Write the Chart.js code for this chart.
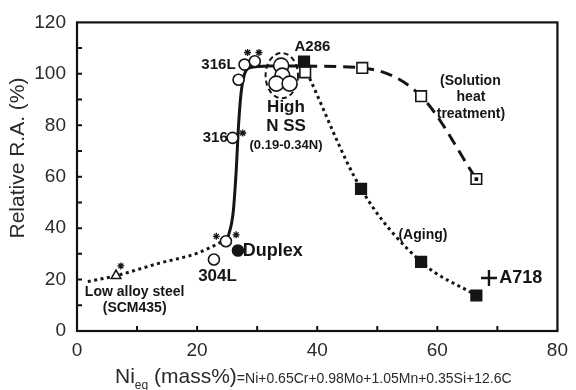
<!DOCTYPE html>
<html>
<head>
<meta charset="utf-8">
<script src="https://cdn.jsdelivr.net/npm/chart.js@4.4.1/dist/chart.umd.min.js"></script>
<style>
  html, body { margin: 0; padding: 0; background: #fff; }
  #wrap { width: 576px; height: 390px; }
</style>
</head>
<body>
<div id="wrap"><canvas id="raChart" width="576" height="390"></canvas></div>
<script>
// Axis ticks
const xTicks = [0, 20, 40, 60, 80];
const yTicks = [0, 20, 40, 60, 80, 100, 120];

// Trend lines, [Ni_eq, relative R.A.]
const lowAlloyTrend = [[1.8, 19.2], [6.5, 21.5], [13.6, 26.3], [20.2, 30.4], [24.3, 34.9]];
const stainlessTrend = [[25.1, 36], [26.0, 46], [26.5, 62], [26.9, 80], [27.4, 94], [28.7, 102.3], [32, 103], [38, 103]];
const solutionTrend = [[38, 103], [47.5, 102.3], [57.3, 91.3], [66.5, 59.1]];
const agingTrend = [[38.3, 100.5], [47.3, 55.3], [57.3, 26.9], [66.5, 13.8]];

// Measured points
const openCircles = [[22.8, 27.8], [24.8, 34.9], [25.9, 75.1], [26.9, 97.7], [27.9, 103.6], [29.6, 104.9]];
const highNCircles = [[34.0, 103.2], [34.2, 99.3], [33.2, 96.2], [35.4, 96.2]];
const starPoints = [[7.3, 25.3], [23.2, 36.8], [26.5, 37.4], [27.6, 77], [28.4, 108.3], [30.3, 108.3]];
const lowAlloyPoint = [[6.5, 21.5]];
const duplexPoint = [[26.8, 31.3]];
const solutionPoints = [[38, 100.6], [47.5, 102.3], [57.3, 91.3], [66.5, 59.1]];
const agingPoints = [[37.8, 104.8], [47.3, 55.3], [57.3, 26.9], [66.5, 13.8]];
const a718Point = [[68.6, 20.6]];

// Text notes anchored in data units
const notes = [
    { text: '316L', x: 26.4, y: 103.4, size: 15, align: 'right' },
    { text: 'A286', x: 39.2, y: 110.3, size: 15 },
    { text: 'High', x: 34.8, y: 87.0, size: 17 },
    { text: 'N SS', x: 34.8, y: 79.7, size: 17 },
    { text: '(0.19-0.34N)', x: 34.8, y: 72.0, size: 13 },
    { text: '316', x: 25.1, y: 75.1, size: 15, align: 'right' },
    { text: '(Solution', x: 65.5, y: 97.3, size: 14 },
    { text: 'heat', x: 65.6, y: 91.1, size: 14 },
    { text: 'treatment)', x: 65.6, y: 84.4, size: 14 },
    { text: '(Aging)', x: 57.6, y: 37.4, size: 14 },
    { text: 'A718', x: 70.3, y: 20.7, size: 18, align: 'left' },
    { text: 'Duplex', x: 27.6, y: 31.0, size: 18, align: 'left' },
    { text: '304L', x: 23.4, y: 21.1, size: 17 },
    { text: 'Low alloy steel', x: 9.6, y: 15.3, size: 14 },
    { text: '(SCM435)', x: 9.6, y: 8.7, size: 14 }
];

const FONT = "'Liberation Sans', Arial, sans-serif";
const INK = '#151515';

function pts(arr) {
    return arr.map(([x, y]) => ({ x, y }));
}

function trend(data, dash) {
    return {
        data: pts(data),
        showLine: true,
        borderColor: INK,
        borderWidth: 3,
        borderDash: dash,
        borderCapStyle: 'butt',
        cubicInterpolationMode: 'monotone',
        pointRadius: 0,
        order: 10
    };
}

function marks(data, style, radius, fill, order) {
    return {
        data: pts(data),
        showLine: false,
        pointStyle: style,
        pointRadius: radius,
        pointBackgroundColor: fill,
        pointBorderColor: INK,
        pointBorderWidth: 1.6,
        order: order
    };
}

// Frame, inward ticks, dashed ring, notes and axis titles
const decorPlugin = {
    id: 'decor',
    beforeDatasetsDraw(chart) {
        const { ctx, scales: { x, y } } = chart;
        const cx = x.getPixelForValue(34.1);
        const cy = y.getPixelForValue(99.3);
        const rx = x.getPixelForValue(34.1 + 2.7) - cx;
        const ry = cy - y.getPixelForValue(99.3 + 8.8);
        ctx.save();
        ctx.setLineDash([5, 3.5]);
        ctx.lineWidth = 2;
        ctx.strokeStyle = INK;
        ctx.beginPath();
        ctx.ellipse(cx, cy, rx, ry, 0, 0, Math.PI * 2);
        ctx.stroke();
        ctx.restore();
    },
    afterDraw(chart) {
        const { ctx, chartArea: a, scales: { x, y } } = chart;
        ctx.save();

        // box
        ctx.strokeStyle = '#111';
        ctx.lineWidth = 2.2;
        ctx.strokeRect(a.left, a.top, a.right - a.left, a.bottom - a.top);

        // ticks every 10 units, pointing inward
        ctx.lineWidth = 2;
        ctx.beginPath();
        for (let v = 10; v < 80; v += 10) {
            const px = x.getPixelForValue(v);
            ctx.moveTo(px, a.bottom);
            ctx.lineTo(px, a.bottom - 5);
        }
        for (let v = 10; v < 120; v += 10) {
            const py = y.getPixelForValue(v);
            ctx.moveTo(a.left, py);
            ctx.lineTo(a.left + 5, py);
        }
        ctx.stroke();

        // notes
        ctx.fillStyle = INK;
        ctx.textBaseline = 'middle';
        notes.forEach(n => {
            ctx.font = 'bold ' + n.size + 'px ' + FONT;
            ctx.textAlign = n.align || 'center';
            ctx.fillText(n.text, x.getPixelForValue(n.x), y.getPixelForValue(n.y));
        });

        // y title
        ctx.fillStyle = '#2a2a2a';
        ctx.save();
        ctx.translate(18, 158);
        ctx.rotate(-Math.PI / 2);
        ctx.textAlign = 'center';
        ctx.font = '21px ' + FONT;
        ctx.fillText('Relative R.A. (%)', 0, 0);
        ctx.restore();

        // x title with subscript and smaller formula
        ctx.textAlign = 'left';
        ctx.textBaseline = 'alphabetic';
        let tx = 115;
        const parts = [
            { t: 'Ni', size: 21, base: 383 },
            { t: 'eq', size: 12, base: 389 },
            { t: ' (mass%)', size: 21, base: 383 },
            { t: '=Ni+0.65Cr+0.98Mo+1.05Mn+0.35Si+12.6C', size: 14, base: 383 }
        ];
        parts.forEach(p => {
            ctx.font = p.size + 'px ' + FONT;
            ctx.fillText(p.t, tx, p.base);
            tx += ctx.measureText(p.t).width;
        });

        ctx.restore();
    }
};

const tickFont = { family: FONT, size: 19 };

new Chart(document.getElementById('raChart'), {
    type: 'scatter',
    data: {
        datasets: [
            trend(lowAlloyTrend, [3, 3.5]),
            trend(stainlessTrend, []),
            trend(solutionTrend, [12, 7]),
            trend(agingTrend, [3, 3.5]),
            marks(openCircles, 'circle', 5.5, '#fff', 3),
            marks(highNCircles, 'circle', 7.5, '#fff', 3),
            Object.assign(marks(starPoints, 'star', 3.5, '#fff', 3), { pointBorderWidth: 1.3 }),
            marks(lowAlloyPoint, 'triangle', 5.5, '#fff', 3),
            marks(duplexPoint, 'circle', 5.5, INK, 3),
            marks(solutionPoints, 'rect', 7.5, '#fff', 2),
            marks(solutionPoints.slice(-1), 'rect', 1.5, INK, 1),
            marks(agingPoints, 'rect', 7.5, INK, 1),
            Object.assign(marks(a718Point, 'cross', 8, INK, 1), { pointBorderWidth: 2.4 })
        ]
    },
    options: {
        responsive: false,
        animation: false,
        layout: { padding: { top: 18, right: 12, left: 0, bottom: 0 } },
        plugins: {
            legend: { display: false },
            tooltip: { enabled: false }
        },
        scales: {
            x: {
                type: 'linear',
                min: 0,
                max: 80,
                afterBuildTicks: s => { s.ticks = xTicks.map(v => ({ value: v })); },
                afterFit: s => { s.height = 59; },
                ticks: { font: tickFont, color: '#2a2a2a', padding: 8, maxRotation: 0, autoSkip: false },
                grid: { display: false, drawTicks: false },
                border: { display: false }
            },
            y: {
                type: 'linear',
                min: 0,
                max: 120,
                afterBuildTicks: s => { s.ticks = yTicks.map(v => ({ value: v })); },
                afterFit: s => { s.width = 77; },
                ticks: { font: tickFont, color: '#2a2a2a', padding: 11, autoSkip: false },
                grid: { display: false, drawTicks: false },
                border: { display: false }
            }
        }
    },
    plugins: [decorPlugin]
});
</script>
</body>
</html>
